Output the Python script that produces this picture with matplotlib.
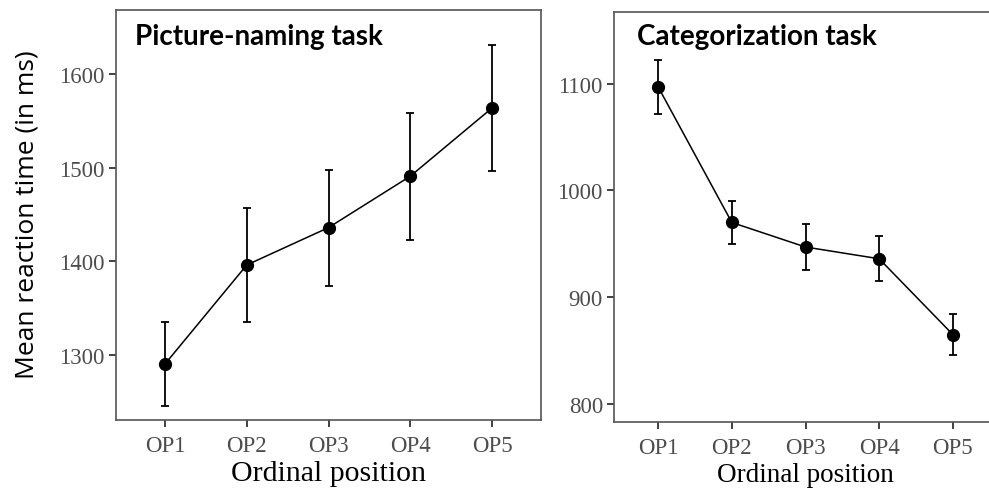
import matplotlib.pyplot as plt
import numpy as np

# Data
positions = ["OP1", "OP2", "OP3", "OP4", "OP5"]

naming_mean = [1290, 1396, 1436, 1491, 1564]
naming_err = [45, 61, 62, 68, 67]

categ_mean = [1097, 970, 947, 936, 865]
categ_err = [25, 20, 22, 21, 19]

W, H = 989, 489
fig = plt.figure(figsize=(W / 100, H / 100), dpi=100)

serif = "Liberation Serif"
tick_col = "#4d4d4d"
spine_col = "#555555"


def style_axes(ax, yticks, ylim):
    ax.set_xlim(0.4, 5.6)
    ax.set_ylim(*ylim)
    ax.set_xticks(np.arange(1, 6))
    ax.set_xticklabels(positions)
    ax.set_yticks(yticks)
    for lab in ax.get_xticklabels() + ax.get_yticklabels():
        lab.set_fontfamily(serif)
        lab.set_fontsize(16.5)
        lab.set_color(tick_col)
    ax.tick_params(length=5, width=1.3, color="#333333", pad=3)
    ax.tick_params(axis="x", pad=6)
    for s in ax.spines.values():
        s.set_color(spine_col)
        s.set_linewidth(1.2)


x = np.arange(1, 6)

# Left: picture-naming task
ax1 = fig.add_axes([116 / W, 1 - 421 / H, (541 - 116) / W, (421 - 11) / H])
ax1.errorbar(x, naming_mean, yerr=naming_err, color="black", lw=1.1,
             elinewidth=1.3, capsize=3, capthick=1.3,
             marker="o", markersize=8.5)
style_axes(ax1, [1300, 1400, 1500, 1600], (1230, 1669))
ax1.set_xlabel("Ordinal position", fontfamily=serif, fontsize=21.5, labelpad=3)
ax1.text(0.045, 0.917, "Picture-naming task", transform=ax1.transAxes,
         fontfamily="Lato", fontweight="bold", fontsize=20,
         va="baseline", ha="left")
fig.text(27 / W, 1 - 215 / H, "Mean reaction time (in ms)",
         fontfamily="Open Sans", fontsize=19, rotation=90,
         ha="center", va="center")

# Right: categorization task (cut off at the figure edge)
ax2 = fig.add_axes([614 / W, 1 - 423 / H, (997 - 614) / W, (423 - 13.3) / H])
ax2.errorbar(x, categ_mean, yerr=categ_err, color="black", lw=1.1,
             elinewidth=1.3, capsize=3, capthick=1.3,
             marker="o", markersize=8.5)
style_axes(ax2, [800, 900, 1000, 1100], (783, 1167))
ax2.set_xlabel("Ordinal position", fontfamily=serif, fontsize=19.5, labelpad=3)
ax2.text(0.06, 0.923, "Categorization task", transform=ax2.transAxes,
         fontfamily="Lato", fontweight="bold", fontsize=20,
         va="baseline", ha="left")

fig.savefig("out.png", dpi=100)
